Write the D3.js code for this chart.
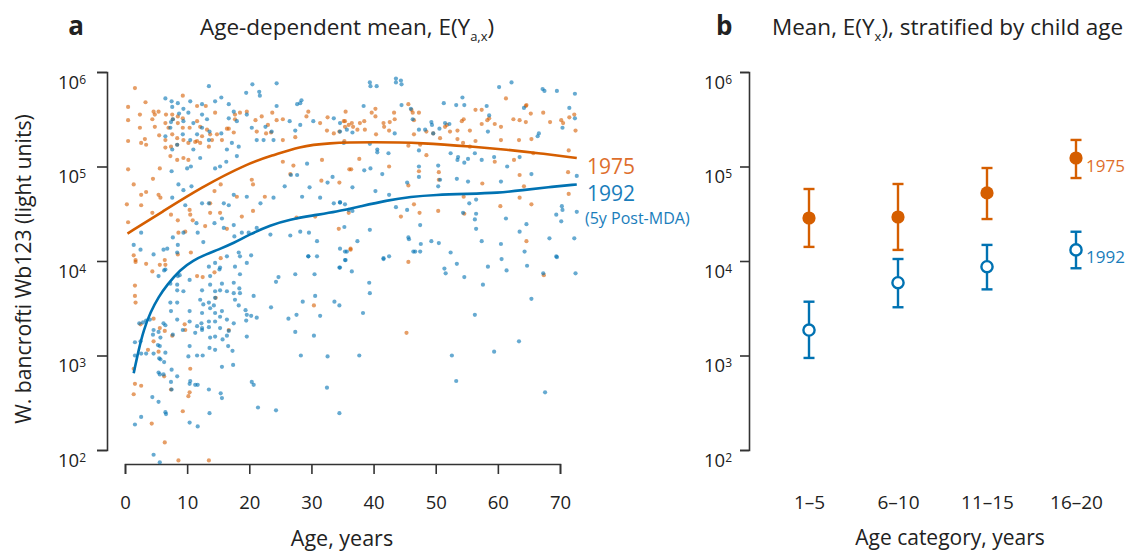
<!DOCTYPE html>
<html>
<head>
<meta charset="utf-8">
<script src="https://cdn.jsdelivr.net/npm/d3@7"></script>
<style>
  body { margin: 0; background: #fff; }
  text { font-family: "Open Sans", sans-serif; fill: #222; }
  .axis .domain, .axis line { stroke: #333; stroke-width: 1.6; }
</style>
</head>
<body>
<svg id="chart"></svg>
<script>
// ---- data ----
var ageTicks = [0, 10, 20, 30, 40, 50, 60, 70];
var decadeTicks = [1e2, 1e3, 1e4, 1e5, 1e6];
var categories = ["1–5", "6–10", "11–15", "16–20"];

// panel b: mean and interval per child age category
var mean1975 = [28500, 29200, 52500, 123000];
var lower1975 = [14100, 13100, 27800, 75500];
var upper1975 = [57800, 65300, 96400, 191000];
var mean1992 = [1860, 5890, 8700, 13100];
var lower1992 = [942, 3240, 5010, 8380];
var upper1992 = [3710, 10500, 14800, 20400];

// panel a: fitted age-dependent mean [age, light units]
var curve1975 = [[0.4, 19500], [6, 33100], [12, 58900], [20, 110000], [24, 132000], [28, 162000],
  [32.5, 178000], [40, 182000], [48, 178000], [56, 162000], [61.4, 151000], [66.8, 138000], [72.7, 123000]];
var curve1992 = [[1.4, 650], [2.2, 1150], [3, 1860], [4.1, 2880], [5.4, 4170], [6.8, 5620], [8.9, 8130],
  [11, 10200], [13, 11700], [15, 13200], [17.5, 15500], [20, 19000], [23.4, 24000], [26.6, 27500],
  [30, 30200], [34, 33100], [38, 38000], [42, 43600], [46, 47900], [50, 50100], [55, 51300],
  [60, 52500], [64, 56200], [68, 60300], [72.7, 64600]];

// panel a: individual measurements [age, log10 light units]
var points1975 = [
  [1.6,5.83],[3.3,5.68],[9.3,5.75],[0.5,5.63],[2.4,5.55],[4.6,5.58],[5.4,5.58],[4.8,5.55],[4.4,5.50],[2.4,5.41],
  [4.8,5.42],[0.5,5.49],[6.6,5.55],[7.6,5.55],[8.5,5.53],[9.3,5.51],[7.7,5.50],[8.5,5.46],[6.5,5.46],[7.0,5.41],
  [9.3,5.41],[10.4,5.41],[11.6,5.64],[13.0,5.64],[14.5,5.57],[11.6,5.48],[12.1,5.42],[13.2,5.39],[13.7,5.34],[12.4,5.32],
  [11.6,5.27],[9.4,5.28],[8.4,5.30],[7.6,5.34],[6.5,5.28],[5.5,5.33],[3.2,5.29],[2.6,5.25],[3.4,5.23],[0.5,5.27],
  [6.5,5.20],[7.4,5.21],[8.4,5.23],[10.2,5.25],[11.3,5.26],[12.1,5.25],[13.5,5.21],[14.0,5.28],[14.8,5.34],[15.6,5.28],
  [16.4,5.40],[16.7,5.40],[17.5,5.36],[17.7,5.55],[17.7,5.50],[18.5,5.57],[19.6,5.58],[21.0,5.49],[22.0,5.53],[23.0,5.44],
  [23.7,5.57],[24.4,5.49],[25.4,5.50],[21.2,5.37],[22.7,5.35],[23.5,5.36],[25.4,5.28],[27.4,5.31],[29.5,5.58],[29.2,5.53],
  [31.4,5.46],[32.6,5.52],[32.5,5.38],[33.6,5.35],[34.5,5.37],[35.2,5.48],[36.0,5.44],[7.3,5.11],[8.4,5.07],[9.4,5.09],
  [10.2,5.07],[1.4,4.81],[0.5,4.97],[4.5,4.87],[5.6,4.98],[5.4,4.70],[5.7,4.67],[2.6,4.70],[3.4,4.73],[0.3,4.60],
  [2.6,4.59],[4.4,4.51],[0.5,4.41],[10.4,4.54],[13.7,4.61],[14.4,4.74],[15.4,4.81],[18.0,4.68],[20.4,4.86],[20.6,4.81],
  [22.5,4.68],[25.4,5.05],[26.6,4.92],[27.1,5.01],[31.7,5.07],[31.6,4.85],[34.5,4.83],[36.1,4.97],[7.4,4.49],[8.5,4.43],
  [10.5,4.49],[10.9,4.43],[8.6,4.30],[9.7,4.31],[12.9,4.37],[13.7,4.51],[15.3,4.51],[16.4,4.34],[18.8,4.47],[20.6,4.53],
  [27.6,4.46],[30.6,4.47],[34.4,4.34],[36.0,4.51],
  [1.4,4.06],[1.7,4.01],[1.7,3.99],[3.4,3.97],[4.4,3.89],[5.6,3.96],[6.5,3.96],[6.4,4.01],[8.5,4.07],[10.6,4.09],
  [11.6,3.84],[12.5,3.83],[14.4,3.88],[15.4,4.03],[1.6,3.74],[1.6,3.63],[1.7,3.56],[2.5,3.33],[4.6,3.39],[5.6,3.29],
  [6.4,3.26],[7.6,3.21],[9.6,3.33],[9.7,3.27],[16.7,3.27],[14.6,3.61],[4.6,3.15],[3.7,3.06],[5.4,3.04],[6.3,2.78],
  [10.5,2.86],[1.4,2.86],[1.6,2.70],[2.6,2.68],[1.4,2.59],[7.4,2.64],[10.4,2.61],[10.2,2.57],[9.3,2.41],[4.3,2.28],
  [6.4,2.08],[8.6,1.89],[13.5,1.89],[30.4,3.53],
  [35.5,5.58],[35.4,5.48],[35.4,5.42],[36.5,5.46],[36.7,5.42],[37.4,5.39],[37.8,5.46],[38.5,5.48],[38.6,5.39],[39.7,5.57],
  [40.3,5.61],[40.3,5.53],[40.4,5.34],[41.6,5.46],[41.7,5.42],[42.6,5.47],[42.5,5.38],[43.3,5.57],[43.4,5.50],[45.6,5.66],
  [46.1,5.60],[46.3,5.57],[47.3,5.57],[46.5,5.49],[46.5,5.34],[47.5,5.23],[45.6,5.22],[48.5,5.37],[49.6,5.35],[48.5,5.12],
  [50.7,5.30],[51.5,5.42],[51.8,5.44],[52.3,5.37],[53.5,5.38],[53.5,5.29],[54.2,5.48],[54.5,5.50],[54.4,5.25],[55.5,5.38],
  [55.5,5.21],[56.4,5.27],[56.4,5.60],[57.4,5.60],[57.4,5.45],[58.3,5.49],[58.6,5.51],[59.5,5.45],[60.5,5.42],[60.5,5.28],
  [61.3,5.72],[62.5,5.50],[63.4,5.28],[63.5,5.49],[64.5,5.64],[64.6,5.65],[64.5,5.47],[65.3,5.56],[65.4,5.29],[65.7,5.14],
  [67.3,5.57],[68.4,5.47],[70.2,5.49],[70.5,5.46],[71.5,5.52],[72.3,5.55],[72.5,5.38],[71.4,5.17],[71.3,4.94],[71.4,4.71],
  [36.4,4.97],[37.7,5.08],[42.5,5.00],[45.6,4.80],[47.3,4.95],[50.5,4.94],[50.5,4.86],[46.5,4.60],[47.4,4.51],[44.4,4.47],
  [54.5,4.68],[54.6,4.50],[57.5,4.82],[62.6,5.07],[59.5,5.05],[60.4,4.58],[63.5,4.91],[64.2,4.79],[63.5,4.67],[65.4,4.60],
  [64.6,4.21],[50.4,4.53],[36.3,4.13],[35.3,5.27],[36.3,4.12],[45.6,3.99],[45.3,3.24],[67.4,3.85]
];
var points1992 = [
  [13.5,5.85],[20.5,5.87],[24.4,5.88],[19.5,5.78],[21.6,5.79],[21.7,5.75],[6.5,5.72],[7.5,5.69],[8.5,5.67],[10.5,5.69],
  [12.4,5.66],[14.5,5.69],[15.5,5.73],[16.7,5.66],[24.4,5.64],[28.2,5.67],[28.4,5.70],[27.7,5.66],[7.6,5.63],[9.4,5.61],
  [7.7,5.50],[7.4,5.47],[7.3,5.41],[8.7,5.56],[9.4,5.48],[10.2,5.57],[11.0,5.46],[12.4,5.55],[13.2,5.50],[13.6,5.37],
  [12.4,5.41],[11.6,5.34],[10.5,5.28],[9.3,5.34],[8.4,5.23],[7.6,5.18],[6.5,5.32],[11.0,5.18],[13.5,5.28],[15.5,5.35],
  [17.5,5.58],[16.7,5.51],[18.0,5.48],[19.6,5.55],[20.4,5.41],[21.2,5.28],[22.3,5.28],[22.6,5.42],[23.6,5.37],[23.9,5.28],
  [26.5,5.48],[27.4,5.38],[28.2,5.44],[30.3,5.48],[33.6,5.51],[34.6,5.46],[34.6,5.37],[35.7,5.39],[16.4,5.18],[17.2,5.25],
  [18.3,5.21],[18.0,5.11],[16.3,5.05],[15.3,5.00],[14.5,4.98],[12.1,5.09],[10.0,4.98],[10.6,5.00],[7.5,4.95],[8.6,4.81],
  [9.4,4.75],[10.7,4.79],[7.6,4.67],[9.7,4.59],[12.4,4.61],[13.5,4.61],[15.9,4.61],[16.7,4.59],[17.5,4.70],[19.6,4.68],
  [21.8,4.61],[23.9,4.67],[25.7,4.79],[26.7,4.91],[27.7,4.91],[28.5,4.68],[29.3,5.03],[29.7,4.78],[31.4,4.67],[32.6,4.83],
  [33.4,4.89],[33.6,4.61],[34.6,4.62],[36.0,4.54],[2.6,4.30],[1.4,4.17],[4.6,4.07],[6.2,4.12],[6.8,4.13],[7.7,4.25],
  [8.5,4.17],[9.4,4.30],[11.5,4.40],[11.7,4.30],[12.6,4.20],[14.4,4.40],[15.6,4.45],[15.9,4.35],[17.5,4.38],[17.6,4.26],
  [18.8,4.30],[19.9,4.30],[21.2,4.35],[23.4,4.28],[26.6,4.27],[28.2,4.31],[29.6,4.30],[30.9,4.21],[34.6,4.13],[35.7,4.10],
  [29.5,4.05],[30.9,4.05],
  [2.5,4.12],[8.4,4.09],[6.5,3.91],[6.3,3.90],[5.4,3.84],[7.3,3.76],[8.5,3.84],[8.4,3.75],[8.8,3.85],[10.4,3.80],
  [9.4,3.68],[8.4,3.69],[12.4,3.69],[13.5,3.94],[14.5,3.98],[15.3,3.93],[15.2,3.91],[16.4,4.05],[18.5,4.05],[17.7,3.94],
  [18.5,3.86],[19.6,3.98],[20.3,4.06],[18.3,4.09],[13.7,3.84],[13.7,3.75],[14.5,3.68],[15.3,3.69],[14.5,3.61],[15.6,3.76],
  [16.4,3.68],[17.5,3.66],[17.7,3.59],[18.5,3.66],[18.4,3.71],[17.5,3.77],[19.4,3.48],[19.6,3.43],[19.5,3.37],[19.6,3.20],
  [20.3,3.42],[21.2,3.40],[20.7,3.63],[18.3,3.53],[17.5,3.34],[16.4,3.38],[16.4,3.21],[16.7,3.26],[15.6,3.47],[15.3,3.41],
  [14.5,3.45],[14.3,3.53],[13.5,3.56],[13.7,3.50],[12.6,3.54],[12.4,3.45],[12.1,3.59],[11.6,3.31],[12.4,3.29],[11.3,3.24],
  [12.4,3.27],[13.5,3.30],[13.7,3.19],[14.5,3.20],[15.3,3.29],[14.5,3.36],[13.5,3.36],[12.3,3.34],[10.4,3.36],[9.3,3.27],
  [10.4,3.47],[8.4,3.56],[8.4,3.38],[7.4,3.47],[7.3,3.56],[7.7,3.22],[6.5,3.32],[4.6,3.27],[4.5,3.22],[6.2,3.34],
  [5.4,3.25],[5.7,3.19],[5.6,3.10],[5.3,3.11],[5.5,2.97],[5.7,2.96],[6.5,3.03],[6.3,2.93],[7.5,2.85],[7.4,2.72],
  [7.5,2.64],[5.4,2.82],[5.6,2.80],[6.2,2.80],[8.4,2.78],[10.4,3.10],[10.2,2.99],[11.6,3.00],[12.5,3.00],[13.6,3.08],
  [14.5,3.06],[15.7,3.17],[16.6,3.10],[17.3,3.05],[17.4,2.90],[15.6,2.88],[10.5,2.73],[10.4,2.70],[11.3,2.69],[11.7,2.69],
  [13.5,2.64],[15.4,2.60],[15.6,2.55],[20.4,2.72],[20.7,2.69],[21.4,2.45],[24.3,2.42],[1.6,3.14],[1.6,3.00],[2.5,3.15],
  [2.6,3.02],[3.4,3.02],[4.6,3.02],[2.3,3.34],[2.9,3.35],[4.0,3.38],[3.4,3.37],[4.4,2.56],[5.4,2.51],[6.5,2.40],
  [6.6,2.38],[2.6,2.35],[1.6,2.27],[10.4,2.29],[11.7,2.25],[13.6,2.39],[4.6,1.95],[5.6,1.87],[23.5,3.51],[24.7,3.83],
  [24.3,3.78],[27.4,3.86],[30.5,3.86],[29.5,4.05],[28.6,3.57],[30.6,3.63],[31.4,3.42],[26.3,3.39],[27.6,3.43],[27.4,3.25],
  [30.4,3.21],[28.3,3.00],[32.6,2.99],[33.7,3.57],[34.5,3.53],[32.5,2.66],[34.5,2.39],[34.5,3.93],[35.4,4.01],
  [39.4,5.89],[39.5,5.85],[40.5,5.85],[43.6,5.93],[43.6,5.89],[44.4,5.91],[44.5,5.87],[38.4,5.64],[44.5,5.65],[43.4,5.35],
  [46.0,5.61],[46.3,5.50],[47.3,5.39],[48.3,5.39],[49.3,5.47],[49.4,5.44],[49.6,5.35],[50.6,5.40],[51.3,5.67],[51.5,5.46],
  [52.2,5.45],[53.3,5.65],[54.3,5.73],[54.6,5.65],[58.2,5.64],[58.6,5.54],[58.4,5.37],[60.2,5.84],[62.2,5.89],[64.2,5.62],
  [66.6,5.35],[66.4,5.32],[67.2,5.82],[67.5,5.80],[69.5,5.80],[72.4,5.77],[71.5,5.62],[72.4,5.51],[70.4,5.41],[36.6,5.36],
  [35.2,5.25],[39.4,5.24],[40.6,5.18],[40.6,5.15],[42.4,5.14],[47.3,5.17],[47.3,5.00],[47.3,4.89],[50.4,5.01],[50.7,4.86],
  [50.4,4.79],[41.4,4.92],[38.5,4.96],[39.5,4.98],[36.6,4.78],[40.3,4.74],[34.6,4.62],[35.4,4.60],[36.6,4.53],[39.4,4.33],
  [42.5,4.70],[43.6,4.57],[45.4,4.83],[45.4,4.54],[47.5,4.38],[52.4,5.14],[53.6,5.10],[53.5,5.07],[54.6,5.04],[55.2,5.08],
  [56.3,5.14],[57.4,5.07],[59.4,5.10],[61.5,5.00],[63.5,5.10],[65.4,4.92],[72.7,4.90],[53.4,4.87],[55.2,4.84],[60.5,4.84],
  [55.4,4.61],[56.5,4.65],[54.4,4.51],[56.5,4.50],[56.3,4.44],[56.5,4.34],[61.3,4.45],[63.5,4.31],[64.6,4.39],[70.3,4.58],
  [70.4,4.54],[69.4,4.49],[70.2,4.42],[72.7,4.52],[68.3,4.24],[72.3,4.24],[35.3,4.36],[37.4,4.21],[35.4,4.10],[45.6,4.25],
  [45.7,4.23],[46.4,4.10],[47.6,4.18],[47.5,4.10],[49.3,4.21],[50.5,4.19],[52.4,4.09],[57.4,4.21],[60.5,4.18],[64.3,4.10],
  [69.4,4.05],[41.6,4.03],[42.5,4.05],[60.6,4.02],
  [35.5,4.01],[34.6,3.93],[36.5,3.89],[41.6,4.02],[46.7,4.10],[51.4,3.92],[51.6,3.87],[53.4,3.97],[54.6,3.83],[58.4,3.94],
  [61.4,3.90],[64.7,3.95],[67.3,3.87],[69.5,4.04],[72.5,3.87],[39.3,3.77],[39.4,3.66],[38.3,3.45],[57.6,3.75],[65.4,3.60],
  [56.3,3.43],[63.4,3.15],[59.4,3.04],[37.7,3.00],[52.6,3.00],[53.3,2.73],[67.6,2.61]
];

// ---- layout ----
var W = 1133, H = 552;
var orange = "#D55E00", blue = "#0072B2";
var orangeText = "#DE6E2C", blueText = "#1A7DBB";

var svg = d3.select("#chart").attr("width", W).attr("height", H);

var y = d3.scaleLog().domain([1e2, 1e6]).range([450, 72]);
var x = d3.scaleLinear().domain([0, 70]).range([125, 560]);
var xb = d3.scalePoint().domain(categories).range([809, 1076]);

function powerLabels(g) {
  g.selectAll(".tick text").each(function(d) {
    var t = d3.select(this).text("").attr("dy", "0.88em");
    t.append("tspan").text("10");
    t.append("tspan").attr("dy", -5).attr("font-size", 12).text(Math.round(Math.log10(d)));
  });
}

////////// panel a
svg.append("g").attr("class", "axis")
  .attr("transform", "translate(107,0)")
  .call(d3.axisLeft(y).tickValues(decadeTicks).tickSize(10).tickSizeOuter(10).tickPadding(11))
  .call(powerLabels)
  .selectAll("text").attr("font-size", 18.5).style("fill", "#222");

svg.append("g").attr("class", "axis")
  .attr("transform", "translate(0,464)")
  .call(d3.axisBottom(x).tickValues(ageTicks).tickSize(10).tickSizeOuter(10).tickPadding(22))
  .selectAll("text").attr("font-size", 18.5).style("fill", "#222");

svg.selectAll(".axis text").attr("font-family", null);

svg.append("g").selectAll("circle").data(points1975).enter().append("circle")
  .attr("cx", function(d) { return x(d[0]); })
  .attr("cy", function(d) { return y(Math.pow(10, d[1])); })
  .attr("r", 2.1)
  .attr("fill", orange).attr("fill-opacity", 0.6);

svg.append("g").selectAll("circle").data(points1992).enter().append("circle")
  .attr("cx", function(d) { return x(d[0]); })
  .attr("cy", function(d) { return y(Math.pow(10, d[1])); })
  .attr("r", 2.1)
  .attr("fill", blue).attr("fill-opacity", 0.6);

var line = d3.line()
  .x(function(d) { return x(d[0]); })
  .y(function(d) { return y(d[1]); })
  .curve(d3.curveBasis);

svg.append("path").datum(curve1975).attr("d", line)
  .attr("fill", "none").attr("stroke", orange).attr("stroke-width", 2.6);
svg.append("path").datum(curve1992).attr("d", line)
  .attr("fill", "none").attr("stroke", blue).attr("stroke-width", 2.6);

svg.append("text").attr("x", 587).attr("y", 174).attr("font-size", 21)
  .style("fill", orangeText).text("1975");
svg.append("text").attr("x", 587).attr("y", 201).attr("font-size", 21)
  .style("fill", blueText).text("1992");
svg.append("text").attr("x", 585).attr("y", 224).attr("font-size", 16)
  .style("fill", blueText).text("(5y Post-MDA)");

// titles / axis labels
svg.append("text").attr("x", 76).attr("y", 35).attr("text-anchor", "middle")
  .attr("font-size", 26).attr("font-weight", "bold").text("a");
var ta = svg.append("text").attr("x", 200).attr("y", 35).attr("font-size", 22.5);
ta.append("tspan").text("Age-dependent mean, E(Y");
ta.append("tspan").attr("font-size", 13).attr("dy", 6).text("a,x");
ta.append("tspan").attr("dy", -6).text(")");

svg.append("text").attr("x", 342).attr("y", 546).attr("text-anchor", "middle")
  .attr("font-size", 21.5).text("Age, years");
svg.append("text").attr("transform", "translate(31,269) rotate(-90)")
  .attr("text-anchor", "middle").attr("font-size", 21.2)
  .text("W. bancrofti Wb123 (light units)");

////////// panel b
svg.append("g").attr("class", "axis")
  .attr("transform", "translate(749,0)")
  .call(d3.axisLeft(y).tickValues(decadeTicks).tickSize(9).tickSizeOuter(9).tickPadding(8))
  .call(powerLabels)
  .selectAll("text").attr("font-size", 18.5).style("fill", "#222");

var xbAxis = svg.append("g").attr("class", "axis")
  .attr("transform", "translate(0,464)")
  .call(d3.axisBottom(xb).tickSize(0).tickPadding(32));
xbAxis.select(".domain").remove();
xbAxis.selectAll("text").attr("font-size", 19).style("fill", "#222");
svg.selectAll(".axis text").attr("font-family", null);

function errorBars(mean, lo, hi, col, filled) {
  var g = svg.append("g");
  var idx = d3.range(categories.length);
  g.selectAll("line.v").data(idx).enter().append("line")
    .attr("x1", function(i) { return xb(categories[i]); })
    .attr("x2", function(i) { return xb(categories[i]); })
    .attr("y1", function(i) { return y(lo[i]); })
    .attr("y2", function(i) { return y(hi[i]); })
    .attr("stroke", col).attr("stroke-width", 2.4);
  [lo, hi].forEach(function(arr) {
    g.selectAll(null).data(idx).enter().append("line")
      .attr("x1", function(i) { return xb(categories[i]) - 5.5; })
      .attr("x2", function(i) { return xb(categories[i]) + 5.5; })
      .attr("y1", function(i) { return y(arr[i]); })
      .attr("y2", function(i) { return y(arr[i]); })
      .attr("stroke", col).attr("stroke-width", 2.4);
  });
  g.selectAll("circle").data(idx).enter().append("circle")
    .attr("cx", function(i) { return xb(categories[i]); })
    .attr("cy", function(i) { return y(mean[i]); })
    .attr("r", filled ? 6.6 : 5.6)
    .attr("fill", filled ? col : "#fff")
    .attr("stroke", filled ? "none" : col)
    .attr("stroke-width", 2.4);
}
errorBars(mean1975, lower1975, upper1975, orange, true);
errorBars(mean1992, lower1992, upper1992, blue, false);

svg.append("text").attr("x", 1086).attr("y", 172).attr("font-size", 17)
  .style("fill", orangeText).text("1975");
svg.append("text").attr("x", 1086).attr("y", 263).attr("font-size", 17)
  .style("fill", blueText).text("1992");

svg.append("text").attr("x", 716).attr("y", 35).attr("font-size", 26)
  .attr("font-weight", "bold").text("b");
var tb = svg.append("text").attr("x", 772).attr("y", 35).attr("font-size", 22.5);
tb.append("tspan").text("Mean, E(Y");
tb.append("tspan").attr("font-size", 13).attr("dy", 6).text("x");
tb.append("tspan").attr("dy", -6).text("), stratified by child age");

svg.append("text").attr("x", 950).attr("y", 545).attr("text-anchor", "middle")
  .attr("font-size", 21).text("Age category, years");
</script>
</body>
</html>
